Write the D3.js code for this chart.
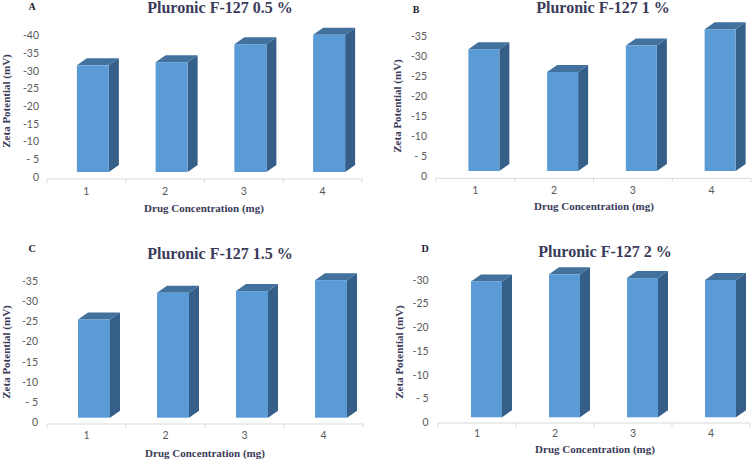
<!DOCTYPE html>
<html>
<head>
<meta charset="utf-8">
<script src="https://cdn.jsdelivr.net/npm/d3@7/dist/d3.min.js"></script>
<style>
  html, body { margin: 0; padding: 0; background: #fff; }
  svg { display: block; }
</style>
</head>
<body>
<svg id="chart" width="755" height="461"></svg>
<script>
// ---- data ----
const categories = ["1", "2", "3", "4"];
const valuesA = [31.6, 32.5, 37.6, 40.3];
const valuesB = [31.7, 26.0, 32.6, 36.7];
const valuesC = [25.5, 32.1, 32.5, 35.2];
const valuesD = [29.7, 31.2, 30.4, 30.0];
const ticksA = [0, 5, 10, 15, 20, 25, 30, 35, 40];
const ticksB = [0, 5, 10, 15, 20, 25, 30, 35];
const ticksC = [0, 5, 10, 15, 20, 25, 30, 35];
const ticksD = [0, 5, 10, 15, 20, 25, 30];
const titles = ["Pluronic F-127 0.5 %", "Pluronic F-127 1 %", "Pluronic F-127 1.5 %", "Pluronic F-127 2 %"];
const letters = ["A", "B", "C", "D"];
const xTitle = "Drug Concentration (mg)";
const yTitle = "Zeta Potential (mV)";

// ---- layout ----
const panels = [
  { values: valuesA, ticks: ticksA, title: titles[0], letter: letters[0],
    xr: [47, 362], yr: [177, 35.7], barOff: -9.5, barW: 32, axisY: 179, yLabX: 39, xLabY: 195,
    letterPos: [32, 9.5], titlePos: [220, 13], xTitlePos: [204, 212], yTitlePos: [10, 101] },
  { values: valuesB, ticks: ticksB, title: titles[1], letter: letters[1],
    xr: [436, 751], yr: [176, 36], barOff: -7, barW: 31, axisY: 178.3, yLabX: 427, xLabY: 194,
    letterPos: [416, 13], titlePos: [603, 12.5], xTitlePos: [594, 210], yTitlePos: [401, 106] },
  { values: valuesC, ticks: ticksC, title: titles[2], letter: letters[2],
    xr: [47, 363], yr: [422.7, 281], barOff: -8.5, barW: 32, axisY: 424, yLabX: 38, xLabY: 439,
    letterPos: [32, 252], titlePos: [220, 259], xTitlePos: [205, 457], yTitlePos: [10, 352] },
  { values: valuesD, ticks: ticksD, title: titles[3], letter: letters[3],
    xr: [438, 750], yr: [422.3, 280], barOff: -6, barW: 31, axisY: 423, yLabX: 428.7, xLabY: 437,
    letterPos: [425, 252], titlePos: [605, 257], xTitlePos: [595, 453], yTitlePos: [403, 352] }
];

const depthX = 10, depthY = -7, floorLift = 5;
const cFront = "#5b9bd5", cTop = "#41719c", cSide = "#355f88";
const tickFont = "Lato, 'Open Sans', sans-serif";
const serif = "'Liberation Serif', 'Times New Roman', serif";
const titleColor = "#3b3b5a";

const svg = d3.select("#chart");

function fmt(v) {
  if (v === 0) return "0";
  if (v < 10) return "- " + v;
  return "-" + v;
}

panels.forEach(p => {
  const g = svg.append("g");
  const x = d3.scaleBand().domain(categories).range(p.xr).paddingInner(0).paddingOuter(0);
  const y = d3.scaleLinear().domain([0, p.ticks[p.ticks.length - 1]]).range(p.yr);
  const y0 = y(0) - floorLift;

  // x axis line + ticks
  g.append("line")
    .attr("x1", p.xr[0]).attr("x2", p.xr[1])
    .attr("y1", p.axisY).attr("y2", p.axisY)
    .attr("stroke", "#d9d9d9").attr("stroke-width", 1);
  const bounds = categories.map(c => x(c)).concat([p.xr[1]]);
  g.selectAll(".xt").data(bounds).enter().append("line")
    .attr("x1", d => d).attr("x2", d => d)
    .attr("y1", p.axisY).attr("y2", p.axisY + 4)
    .attr("stroke", "#d9d9d9").attr("stroke-width", 1);

  // y tick labels
  g.selectAll(".yl").data(p.ticks).enter().append("text")
    .attr("x", p.yLabX).attr("y", d => y(d))
    .attr("dy", "0.35em")
    .attr("text-anchor", "end")
    .attr("font-family", tickFont).attr("font-size", 10.5)
    .attr("fill", "#595959")
    .text(fmt);

  // x tick labels
  g.selectAll(".xl").data(categories).enter().append("text")
    .attr("x", d => x(d) + x.bandwidth() / 2)
    .attr("y", p.xLabY)
    .attr("text-anchor", "middle")
    .attr("font-family", tickFont).attr("font-size", 10.5)
    .attr("fill", "#595959")
    .text(d => d);

  // 3D bars
  const bars = g.selectAll(".bar").data(p.values).enter().append("g");
  bars.each(function (v, i) {
    const b = d3.select(this);
    const xl = x(categories[i]) + x.bandwidth() / 2 + p.barOff;
    const xr = xl + p.barW;
    const yt = y(v);
    // side face
    b.append("path")
      .attr("d", `M${xr},${yt} L${xr + depthX},${yt + depthY} L${xr + depthX},${y0 + depthY} L${xr},${y0} Z`)
      .attr("fill", cSide);
    // top face
    b.append("path")
      .attr("d", `M${xl},${yt} L${xl + depthX},${yt + depthY} L${xr + depthX},${yt + depthY} L${xr},${yt} Z`)
      .attr("fill", cTop);
    // front face
    b.append("rect")
      .attr("x", xl).attr("y", yt)
      .attr("width", p.barW).attr("height", y0 - yt)
      .attr("fill", cFront);
  });

  // panel letter
  g.append("text")
    .attr("x", p.letterPos[0]).attr("y", p.letterPos[1])
    .attr("text-anchor", "middle")
    .attr("font-family", serif).attr("font-weight", "bold").attr("font-size", 10)
    .attr("fill", "#1a1a2e")
    .text(p.letter);

  // title
  g.append("text")
    .attr("x", p.titlePos[0]).attr("y", p.titlePos[1])
    .attr("text-anchor", "middle")
    .attr("font-family", serif).attr("font-weight", "bold").attr("font-size", 16)
    .attr("fill", titleColor)
    .text(p.title);

  // x axis title
  g.append("text")
    .attr("x", p.xTitlePos[0]).attr("y", p.xTitlePos[1])
    .attr("text-anchor", "middle")
    .attr("font-family", serif).attr("font-weight", "bold").attr("font-size", 11)
    .attr("fill", titleColor)
    .text(xTitle);

  // y axis title
  g.append("text")
    .attr("transform", `translate(${p.yTitlePos[0]},${p.yTitlePos[1]}) rotate(-90)`)
    .attr("text-anchor", "middle")
    .attr("font-family", serif).attr("font-weight", "bold").attr("font-size", 11)
    .attr("fill", titleColor)
    .text(yTitle);
});
</script>
</body>
</html>
